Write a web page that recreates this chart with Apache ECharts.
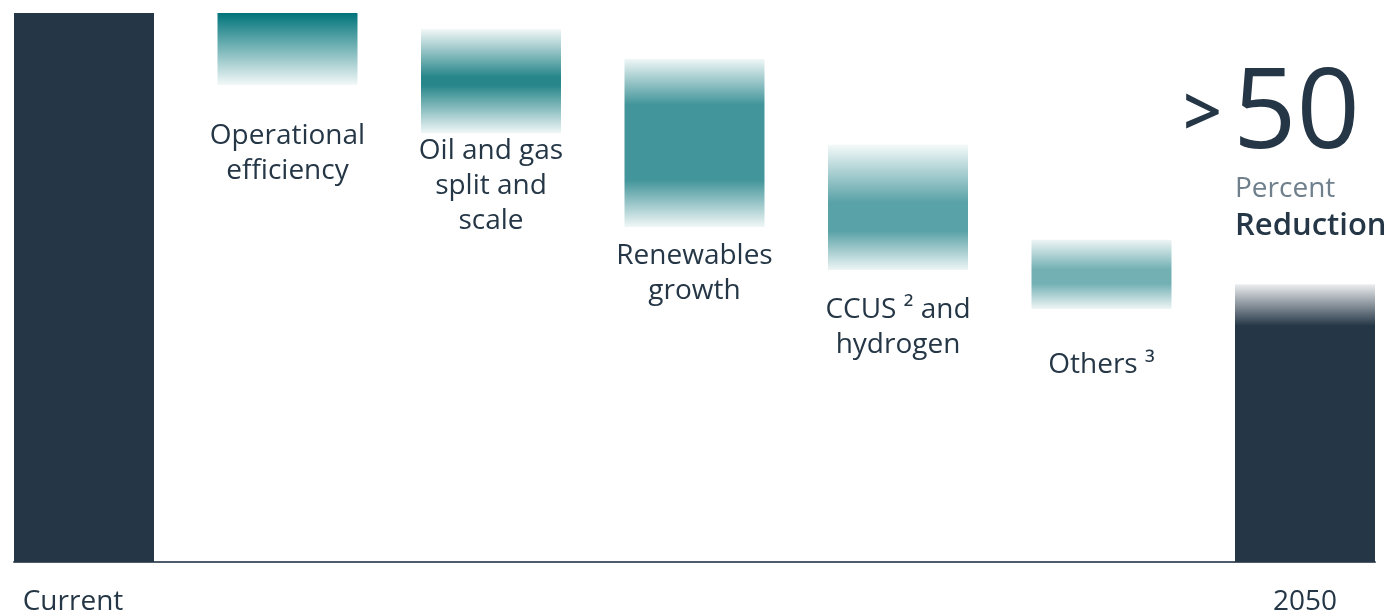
<!DOCTYPE html>
<html>
<head>
<meta charset="utf-8">
<script src="https://cdn.jsdelivr.net/npm/echarts@6/dist/echarts.min.js"></script>
<style>
html,body{margin:0;padding:0;background:#fff;}
#chart{width:1394px;height:611px;}
</style>
</head>
<body>
<div id="chart"></div>
<script>
// ---- data (percent of current emissions) ----
const categories = ['Current', 'Operational efficiency', 'Oil and gas split and scale', 'Renewables growth', 'CCUS 2 and hydrogen', 'Others 3', '2050'];
const barLabels = ['Current', 'Operational\nefficiency', 'Oil and gas\nsplit and\nscale', 'Renewables\ngrowth', 'CCUS \u00b2 and\nhydrogen', 'Others \u00b3', '2050'];
const barTop = [100, 100, 97.1, 91.6, 76.0, 58.7, 50.6];
const barBottom = [0, 86.9, 78.1, 61.0, 53.2, 46.1, 0];
const headlineValue = '50';
const headlinePrefix = '>';
const headlineLine1 = 'Percent';
const headlineLine2 = 'Reduction';
const axisLabelIndices = [0, 6];

// ---- styles ----
const NAVY = '#253746';
const FONT = 'Open Sans';
const G = echarts.graphic.LinearGradient;
const fills = [
  NAVY,
  new G(0, 0, 0, 1, [{offset: 0, color: '#00747a'}, {offset: 1, color: '#f3f8f8'}]),
  new G(0, 0, 0, 1, [{offset: 0, color: '#f3f8f8'}, {offset: 0.46, color: '#26868a'}, {offset: 0.54, color: '#26868a'}, {offset: 1, color: '#f1f7f7'}]),
  new G(0, 0, 0, 1, [{offset: 0, color: '#eff6f6'}, {offset: 0.27, color: '#42959a'}, {offset: 0.72, color: '#42959a'}, {offset: 1, color: '#f1f7f7'}]),
  new G(0, 0, 0, 1, [{offset: 0, color: '#f4f9f9'}, {offset: 0.46, color: '#59a2a7'}, {offset: 0.69, color: '#59a2a7'}, {offset: 1, color: '#eef5f5'}]),
  new G(0, 0, 0, 1, [{offset: 0, color: '#eef5f5'}, {offset: 0.43, color: '#72b0b4'}, {offset: 0.63, color: '#72b0b4'}, {offset: 1, color: '#eef5f5'}]),
  new G(0, 0, 0, 1, [{offset: 0, color: '#eceef0'}, {offset: 0.15, color: NAVY}, {offset: 1, color: NAVY}])
];
const labelGap = [0, 34, 0, 11, 23, 39, 0];
const LABEL_SIZE = 28;
const BAR_W = 140;
const STEP = 203.5;
const half = BAR_W / 2 / STEP;

const chart = echarts.init(document.getElementById('chart'), null, {renderer: 'canvas'});
chart.setOption({
  animation: false,
  backgroundColor: '#ffffff',
  grid: {left: 14, right: 19, top: 13, bottom: 49, containLabel: false, outerBoundsMode: 'none'},
  xAxis: {
    type: 'value',
    min: -half,
    max: categories.length - 1 + half,
    splitLine: {show: false},
    axisTick: {show: false},
    axisLine: {show: true, onZero: false, lineStyle: {color: '#4d5c68', width: 2}},
    axisLabel: {
      customValues: axisLabelIndices,
      margin: 26,
      formatter: v => {
        const i = Math.round(v);
        return i === 0 ? '{l|' + barLabels[i] + '}' : '{c|' + barLabels[i] + '}';
      },
      rich: {
        l: {fontFamily: FONT, fontSize: LABEL_SIZE, color: NAVY, padding: [0, 22, 0, 0]},
        c: {fontFamily: FONT, fontSize: LABEL_SIZE, color: NAVY}
      }
    }
  },
  yAxis: {type: 'value', min: 0, max: 100, show: false, splitLine: {show: false}},
  series: [{
    type: 'custom',
    clip: false,
    data: categories.map((c, i) => [i, barTop[i], barBottom[i]]),
    encode: {x: 0, y: [1, 2]},
    renderItem: function (params, api) {
      const i = params.dataIndex;
      const x = api.value(0);
      const pTop = api.coord([x, api.value(1)]);
      const pBot = api.coord([x, api.value(2)]);
      const children = [{
        type: 'rect',
        shape: {x: pTop[0] - BAR_W / 2, y: pTop[1], width: BAR_W, height: pBot[1] - pTop[1]},
        style: {fill: fills[i]}
      }];
      if (i > 0 && i < categories.length - 1) {
        children.push({
          type: 'text',
          x: pTop[0], y: pBot[1] + labelGap[i],
          style: {text: barLabels[i], fill: NAVY, fontFamily: FONT, fontSize: LABEL_SIZE, lineHeight: 35, align: 'center', verticalAlign: 'top'}
        });
      }
      if (i === categories.length - 1) {
        const left = pTop[0] - BAR_W / 2;
        children.push(
          {type: 'text', x: left - 13, y: pTop[1] - 168, style: {text: headlinePrefix, fill: NAVY, fontFamily: FONT, fontWeight: 600, fontSize: 68, align: 'right', verticalAlign: 'middle'}},
          {type: 'text', x: left - 2, y: pTop[1] - 168, style: {text: headlineValue, fill: NAVY, fontFamily: FONT, fontSize: 111, align: 'left', verticalAlign: 'middle'}},
          {type: 'text', x: left, y: pTop[1] - 95, style: {text: headlineLine1, fill: '#6f808c', fontFamily: FONT, fontSize: 28, align: 'left', verticalAlign: 'middle'}},
          {type: 'text', x: left, y: pTop[1] - 58, style: {text: headlineLine2, fill: NAVY, fontWeight: 600, fontFamily: FONT, fontSize: 31, align: 'left', verticalAlign: 'middle'}}
        );
      }
      return {type: 'group', children: children};
    }
  }]
});
</script>
</body>
</html>
